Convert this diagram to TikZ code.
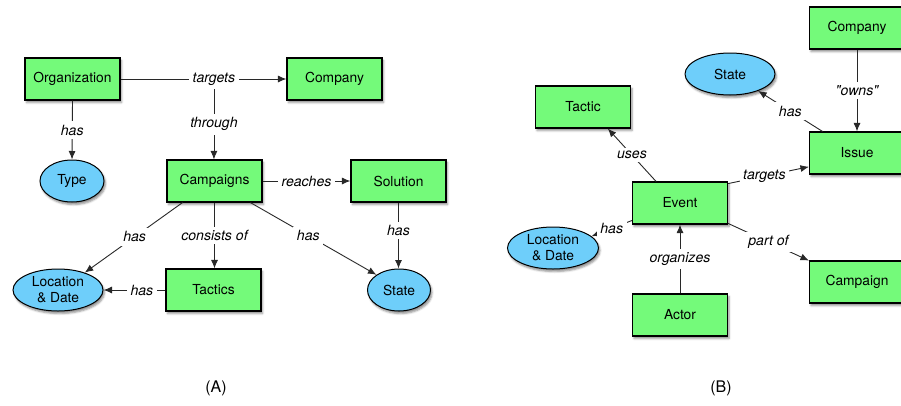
\documentclass[tikz,border=0pt]{standalone}
\usepackage{fontspec}
\setmainfont{TeX Gyre Heros}
\usetikzlibrary{arrows.meta,shapes.geometric,shadows.blur}
\definecolor{boxgreen}{RGB}{116,250,122}
\definecolor{ovalblue}{RGB}{110,206,250}
\definecolor{edgegray}{RGB}{40,40,40}
\tikzset{
  txt/.style={font=\fontsize{13.8}{16}\selectfont},
  softshadow/.style={blur shadow={shadow xshift=1.5pt, shadow yshift=-2.5pt,
      shadow blur radius=2pt, shadow opacity=45}},
  entity/.style={txt, draw=black, line width=1.1pt, fill=boxgreen,
      minimum width=95pt, minimum height=42pt, inner sep=0pt, softshadow},
  attr/.style={txt, ellipse, draw=black, line width=1pt, fill=ovalblue,
      minimum height=42pt, inner sep=0pt, align=center, softshadow},
  rel/.style={draw=edgegray, line width=0.9pt},
  arr/.style={rel, -{Latex[length=8.5pt,width=7pt]}},
  lbl/.style={fill=white, inner sep=3.5pt, font=\fontsize{14.1}{16}\selectfont\itshape},
  caption/.style={font=\fontsize{16}{18}\selectfont, inner sep=0pt},
}
\begin{document}
\begin{tikzpicture}[x=1pt,y=-1pt]
\useasboundingbox (0,0) rectangle (901,405);
\clip (0,0) rectangle (901,405);

% ---------------- (A) ----------------
\node[entity] (org)  at (72.5,79)  {Organization};
\node[entity] (comp) at (334.5,79) {Company};
\node[attr, minimum width=64pt] (type) at (72,181) {Type};
\node[entity] (camp) at (214.5,181) {Campaigns};
\node[entity] (sol)  at (398.5,181) {Solution};
\node[attr, minimum width=90pt] (locA) at (58,290) {Location\\\& Date};
\node[entity] (tac)  at (213.5,290) {Tactics};
\node[attr, minimum width=63pt] (stA) at (399,290) {State};

\draw[arr] (org.east) -- node[lbl, pos=0.563] (tg) {targets} (comp.west);
\draw[arr] (tg.south) -- node[lbl, pos=0.5] {through} (tg.south |- camp.north);
\draw[arr] (org.south) -- node[lbl] {has} (type.north);
\draw[arr] (camp.east) -- node[lbl] {reaches} (sol.west);
\draw[arr] (camp.214) -- node[lbl, pos=0.49] {has} (locA.33);
\draw[arr] (camp.south) -- node[lbl] {consists of} (camp.south |- tac.north);
\draw[arr] (camp.-31) -- node[lbl, pos=0.46] {has} (stA.146);
\draw[arr] (sol.south) -- node[lbl, pos=0.42] {has} (sol.south |- stA.north);
\draw[arr] (tac.west) -- node[lbl, pos=0.38] {has} (locA.east);

\node[caption] (capA) at (216,388) {(A)};

% ---------------- (B) ----------------
\node[entity] (compB) at (857,28)  {Company};
\node[attr, minimum width=90pt] (stB) at (730,74) {State};
\node[entity] (tacB)  at (583,107) {Tactic};
\node[entity] (iss)   at (857,153) {Issue};
\node[entity] (ev)    at (680,203) {Event};
\node[attr, minimum width=91pt] (locB) at (553,248) {Location\\\& Date};
\node[entity] (cmpg)  at (857,282) {Campaign};
\node[entity] (act)   at (680,315) {Actor};

\draw[arr] (compB.south) -- node[lbl, pos=0.5] {\textquotedbl owns\textquotedbl} (iss.north);
\draw[arr] (iss.148) -- node[lbl] {has} (stB.-31);
\draw[arr] (ev.138) -- node[lbl] {uses} (tacB.-41);
\draw[arr] (ev.22) -- node[lbl, pos=0.45] {targets} (iss.196);
\draw[arr] (ev.200) -- node[lbl] {has} (locB.17);
\draw[arr] (ev.-23) -- node[lbl] {part of} (cmpg.156);
\draw[arr] (act.north) -- node[lbl] {organizes} (ev.south);

\node[caption] (capB) at (721,388) {(B)};
\end{tikzpicture}
\end{document}
